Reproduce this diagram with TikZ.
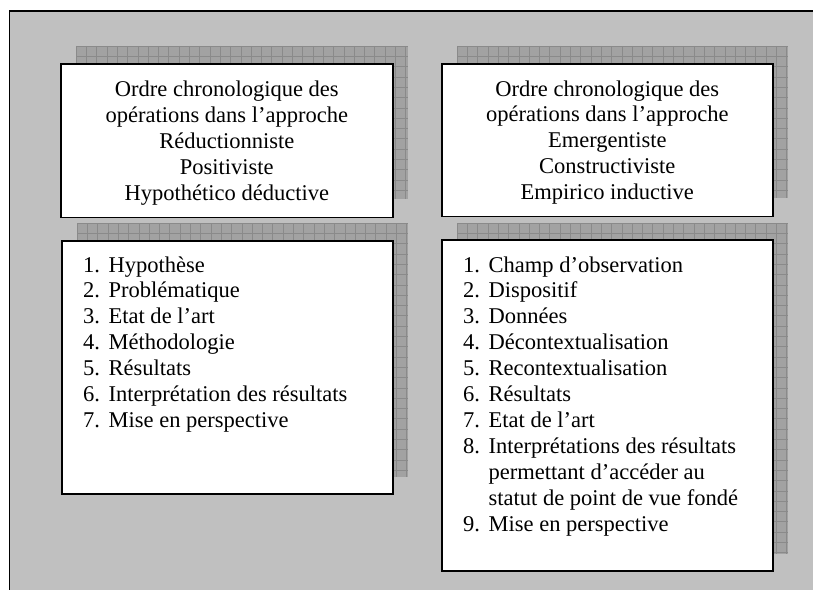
\documentclass[tikz,border=0pt]{standalone}
\usepackage{fontspec}
\setmainfont{Liberation Serif}
\definecolor{bgc}{RGB}{192,192,192}
\definecolor{shadc}{RGB}{162,162,162}
\definecolor{gridc}{RGB}{138,138,138}
\newcommand\myfont{\fontsize{22.6}{26}\selectfont}
\newcommand\num[1]{\makebox[25.5pt][l]{#1}}
\newcommand\topstrut{\rule{0pt}{20pt}}
\tikzset{
  box/.style={draw=black, line width=1.6pt, fill=white, inner sep=0pt, font=\myfont},
  shadowfill/.style={fill=shadc},
  shadowgrid/.style={draw=gridc, line width=0.5pt},
  frameline/.style={draw=black, line width=2pt},
}
\newcommand\shadowrect[4]{%
  \fill[shadowfill] (#1,#2) rectangle (#3,#4);
  \begin{scope}
    \clip (#1,#2) rectangle (#3,#4);
    \foreach \xx in {0,...,34} {\draw[shadowgrid] ({#1+10.3*\xx},#2) -- ({#1+10.3*\xx},#4);}
    \foreach \yy in {0,...,34} {\draw[shadowgrid] (#1,{#2+10.3*\yy}) -- (#3,{#2+10.3*\yy});}
  \end{scope}}
\begin{document}
\begin{tikzpicture}[x=1bp,y=-1bp]
\useasboundingbox (0,0) rectangle (813,590);
\fill[white] (-10,-10) rectangle (830,610);
\fill[bgc] (9.5,11) rectangle (830,610);
\draw[frameline] (830,11) -- (9.5,11) -- (9.5,610);
% shadows
\shadowrect{76}{46}{408}{199}
\shadowrect{457}{46}{788}{198}
\shadowrect{77}{223}{408}{477}
\shadowrect{457}{223}{788}{554}
% header boxes
\node[box, anchor=north west, minimum width=332bp, minimum height=153bp, align=center] (h1) at (60,63.5)
 {\topstrut Ordre chronologique des\\opérations dans l’approche\\Réductionniste\\Positiviste\\Hypothético déductive};
\node[box, anchor=north west, minimum width=331bp, minimum height=152bp, align=center] (h2) at (441,63.5)
 {\topstrut Ordre chronologique des\\opérations dans l’approche\\Emergentiste\\Constructiviste\\Empirico inductive};
% list boxes
\node[box, anchor=north west, minimum width=331bp, minimum height=253bp] (l1) at (61,240) {};
\node[box, anchor=north west, minimum width=331bp, minimum height=331bp] (l2) at (441,239) {};
\node[anchor=base west, inner sep=0pt, font=\myfont] (t1) at (83,272)
 {\begin{tabular}[t]{@{}l@{}}
 \num{1.}Hypothèse\\
 \num{2.}Problématique\\
 \num{3.}Etat de l’art\\
 \num{4.}Méthodologie\\
 \num{5.}Résultats\\
 \num{6.}Interprétation des résultats\\
 \num{7.}Mise en perspective
 \end{tabular}};
\node[anchor=base west, inner sep=0pt, font=\myfont] (t2) at (463,272)
 {\begin{tabular}[t]{@{}l@{}}
 \num{1.}Champ d’observation\\
 \num{2.}Dispositif\\
 \num{3.}Données\\
 \num{4.}Décontextualisation\\
 \num{5.}Recontextualisation\\
 \num{6.}Résultats\\
 \num{7.}Etat de l’art\\
 \num{8.}Interprétations des résultats\\
 \num{}permettant d’accéder au\\
 \num{}statut de point de vue fondé\\
 \num{9.}Mise en perspective
 \end{tabular}};
\end{tikzpicture}
\end{document}
